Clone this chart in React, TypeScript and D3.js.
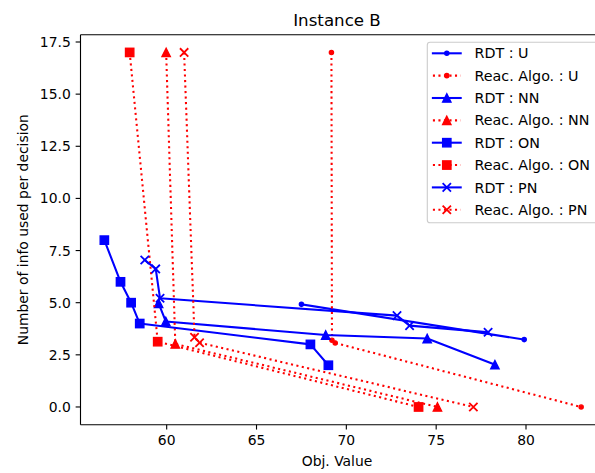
import React from "react";
import * as d3 from "d3";

const rdtU_x = [67.5, 79.9];
const rdtU_y = [4.92, 3.23];
const reacU_x = [69.17, 69.2, 69.38, 83.07];
const reacU_y = [17, 3.2, 3.07, 0];
const rdtNN_x = [59.55, 59.95, 68.85, 74.5, 78.27];
const rdtNN_y = [4.97, 4.1, 3.45, 3.28, 2.03];
const reacNN_x = [59.97, 60.48, 75.07];
const reacNN_y = [17, 3.02, 0];
const rdtON_x = [56.53, 57.43, 58.02, 58.5, 68.0, 69.0];
const rdtON_y = [8, 6, 5, 4, 3, 2];
const reacON_x = [57.94, 59.5, 74.02];
const reacON_y = [17, 3.13, 0];
const rdtPN_x = [58.78, 59.39, 59.63, 72.82, 73.52, 77.89];
const rdtPN_y = [7.05, 6.62, 5.21, 4.38, 3.9, 3.58];
const reacPN_x = [60.97, 61.55, 61.83, 77.07];
const reacPN_y = [17, 3.34, 3.08, 0];

const xTicks = [60, 65, 70, 75, 80];
const yTicks = [0, 2.5, 5, 7.5, 10, 12.5, 15, 17.5];

type Marker = "point" | "triangle" | "square" | "x";
interface Series {
  label: string;
  xs: number[];
  ys: number[];
  color: string;
  dotted: boolean;
  marker: Marker;
}

const series: Series[] = [
  { label: "RDT : U", xs: rdtU_x, ys: rdtU_y, color: "#0000ff", dotted: false, marker: "point" },
  { label: "Reac. Algo. : U", xs: reacU_x, ys: reacU_y, color: "#ff0000", dotted: true, marker: "point" },
  { label: "RDT : NN", xs: rdtNN_x, ys: rdtNN_y, color: "#0000ff", dotted: false, marker: "triangle" },
  { label: "Reac. Algo. : NN", xs: reacNN_x, ys: reacNN_y, color: "#ff0000", dotted: true, marker: "triangle" },
  { label: "RDT : ON", xs: rdtON_x, ys: rdtON_y, color: "#0000ff", dotted: false, marker: "square" },
  { label: "Reac. Algo. : ON", xs: reacON_x, ys: reacON_y, color: "#ff0000", dotted: true, marker: "square" },
  { label: "RDT : PN", xs: rdtPN_x, ys: rdtPN_y, color: "#0000ff", dotted: false, marker: "x" },
  { label: "Reac. Algo. : PN", xs: reacPN_x, ys: reacPN_y, color: "#ff0000", dotted: true, marker: "x" },
];

const W = 595;
const H = 473;
const left = 80.5;
const right = 605;
const top = 34.7;
const bottom = 424.7;
const FONT = "DejaVu Sans, sans-serif";
const FS = 13.9;
const MS = 8.33; // marker size px
const MEW = 1.39;
const LW = 2.08;

const allX = series.flatMap((s) => s.xs);
const allY = series.flatMap((s) => s.ys);
const [xmin, xmax] = d3.extent(allX) as [number, number];
const [ymin, ymax] = d3.extent(allY) as [number, number];
const xpad = (xmax - xmin) * 0.05;
const ypad = (ymax - ymin) * 0.05;

const x = d3.scaleLinear().domain([xmin - xpad, xmax + xpad]).range([left, right]);
const y = d3.scaleLinear().domain([ymin - ypad, ymax + ypad]).range([bottom, top]);

function MarkerShape({ m, cx, cy, color }: { m: Marker; cx: number; cy: number; color: string }) {
  if (m === "point") {
    return <circle cx={cx} cy={cy} r={MS / 4} fill={color} stroke={color} strokeWidth={MEW} />;
  }
  if (m === "square") {
    const h = MS / 2;
    return <rect x={cx - h} y={cy - h} width={MS} height={MS} fill={color} stroke={color} strokeWidth={MEW} strokeLinejoin="miter" />;
  }
  if (m === "triangle") {
    const h = MS / 2;
    const p = `M${cx},${cy - h}L${cx - h},${cy + h}L${cx + h},${cy + h}Z`;
    return <path d={p} fill={color} stroke={color} strokeWidth={MEW} strokeLinejoin="miter" />;
  }
  const h = MS / 2;
  return (
    <path
      d={`M${cx - h},${cy - h}L${cx + h},${cy + h}M${cx - h},${cy + h}L${cx + h},${cy - h}`}
      stroke={color}
      strokeWidth={MEW * 1.3}
      fill="none"
    />
  );
}

const lineGen = d3
  .line<[number, number]>()
  .x((d) => x(d[0]))
  .y((d) => y(d[1]));

export default function App() {
  const legX = 427.3;
  const legY = 42.3;
  const legW = 172;
  const legH = 180.4;
  const rowY0 = 53.3;
  const rowDy = 22.35;
  const hx0 = 432.9;
  const hx1 = 460.7;
  const tx = 474.5;

  return (
    <svg
      width={W}
      height={H}
      style={{ position: "absolute", left: 0, top: 0, background: "#fff" }}
      fontFamily={FONT}
    >
      <rect x={0} y={0} width={W} height={H} fill="#fff" />
      <defs>
        <clipPath id="plotclip">
          <rect x={left} y={top} width={right - left} height={bottom - top} />
        </clipPath>
      </defs>

      {/* series */}
      <g clipPath="url(#plotclip)">
        {series.map((s, i) => {
          const pts = s.xs.map((v, k) => [v, s.ys[k]] as [number, number]);
          return (
            <g key={i}>
              <path
                d={lineGen(pts) || ""}
                fill="none"
                stroke={s.color}
                strokeWidth={LW}
                strokeDasharray={s.dotted ? "2.08 3.44" : undefined}
                strokeLinecap={s.dotted ? "butt" : "square"}
                strokeLinejoin="round"
              />
              {pts.map((p, k) => (
                <MarkerShape key={k} m={s.marker} cx={x(p[0])} cy={y(p[1])} color={s.color} />
              ))}
            </g>
          );
        })}
      </g>

      {/* spines */}
      <g stroke="#000" strokeWidth={1.11} fill="none">
        <line x1={left} y1={top} x2={left} y2={bottom} />
        <line x1={left} y1={bottom} x2={right} y2={bottom} />
        <line x1={left} y1={top} x2={right} y2={top} />
        <line x1={right} y1={top} x2={right} y2={bottom} />
      </g>

      {/* x ticks */}
      {xTicks.map((t) => (
        <g key={t}>
          <line x1={x(t)} x2={x(t)} y1={bottom} y2={bottom + 4.86} stroke="#000" strokeWidth={1.11} />
          <text x={x(t)} y={bottom + 9.72 + 10.6} fontSize={FS} textAnchor="middle" fill="#000">
            {t}
          </text>
        </g>
      ))}
      {/* y ticks */}
      {yTicks.map((t) => (
        <g key={t}>
          <line x1={left - 4.86} x2={left} y1={y(t)} y2={y(t)} stroke="#000" strokeWidth={1.11} />
          <text x={left - 9.72} y={y(t)} dy="0.36em" fontSize={FS} textAnchor="end" fill="#000">
            {t.toFixed(1)}
          </text>
        </g>
      ))}

      {/* labels */}
      <text x={337} y={466} fontSize={FS} textAnchor="middle" fill="#000">
        Obj. Value
      </text>
      <text
        transform={`translate(28, ${(top + bottom) / 2}) rotate(-90)`}
        fontSize={FS}
        textAnchor="middle"
        fill="#000"
      >
        Number of info used per decision
      </text>
      <text x={337} y={26} fontSize={16.67} textAnchor="middle" fill="#000">
        Instance B
      </text>

      {/* legend */}
      <rect
        x={legX}
        y={legY}
        width={legW}
        height={legH}
        rx={2.8}
        fill="#fff"
        fillOpacity={0.8}
        stroke="#cccccc"
        strokeWidth={1.11}
      />
      {series.map((s, i) => {
        const cy = rowY0 + i * rowDy;
        return (
          <g key={i}>
            <line
              x1={hx0}
              x2={hx1}
              y1={cy}
              y2={cy}
              stroke={s.color}
              strokeWidth={LW}
              strokeDasharray={s.dotted ? "2.08 3.44" : undefined}
              strokeLinecap={s.dotted ? "butt" : "square"}
            />
            <MarkerShape m={s.marker} cx={(hx0 + hx1) / 2} cy={cy} color={s.color} />
            <text x={tx} y={cy} dy="0.36em" fontSize={14.3} fill="#000">
              {s.label}
            </text>
          </g>
        );
      })}
    </svg>
  );
}
